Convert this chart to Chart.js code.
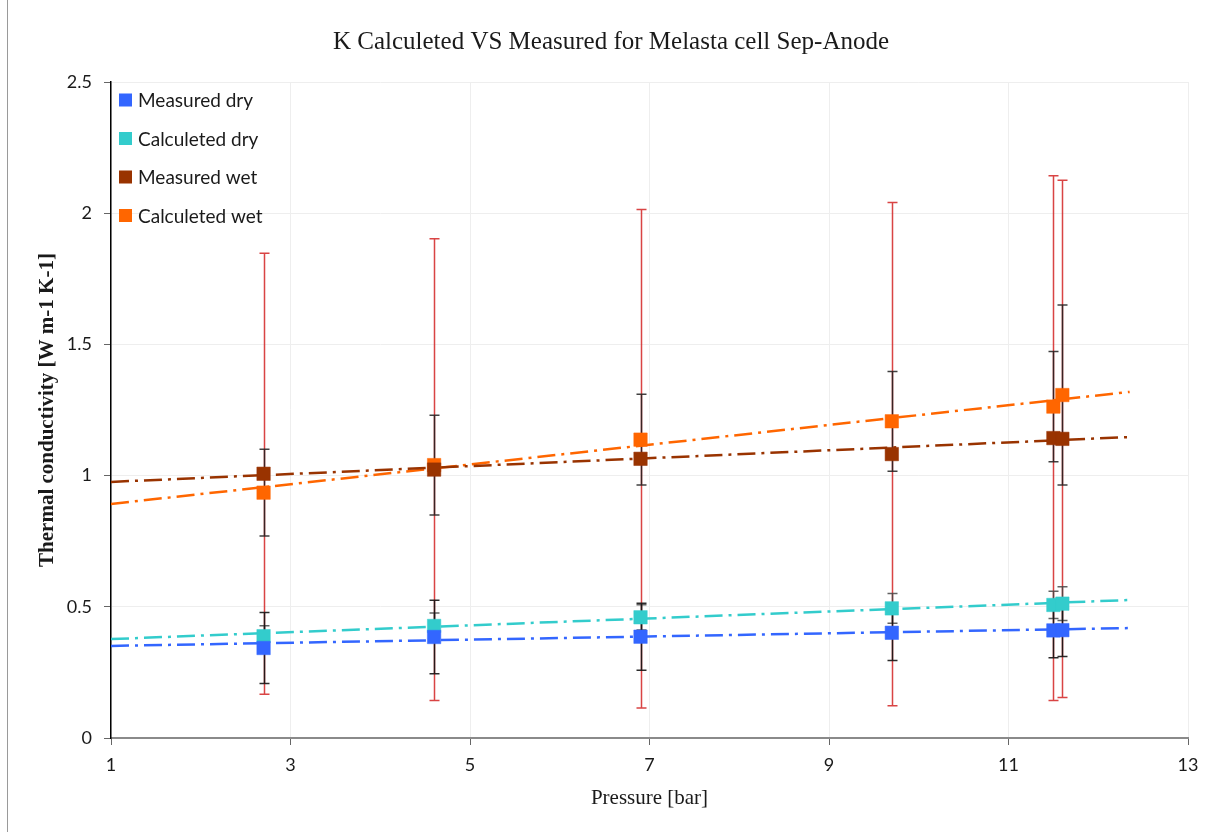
<!DOCTYPE html>
<html>
<head>
<meta charset="utf-8">
<script src="https://cdn.jsdelivr.net/npm/chart.js@4/dist/chart.umd.min.js"></script>
<style>
  html, body { margin: 0; padding: 0; background: #fff; }
  canvas { display: block; }
</style>
</head>
<body>
<canvas id="c" width="1213" height="832"></canvas>
<script>
// ---- data ----
const pressure = [2.7, 4.6, 6.9, 9.7, 11.5, 11.6];

const measuredDry       = [0.343, 0.385, 0.386, 0.401, 0.410, 0.411];
const measuredDryErr    = [0.135, 0.140, 0.128, 0.106, 0.104, 0.100];
const calculatedDry     = [0.388, 0.427, 0.460, 0.494, 0.507, 0.512];
const calculatedDryErr  = [0.040, 0.049, 0.048, 0.057, 0.052, 0.064];
const measuredWet       = [1.007, 1.023, 1.064, 1.082, 1.143, 1.140];
const measuredWetErr    = [0.840, 0.880, 0.950, 0.959, 1.000, 0.986];
const calculatedWet     = [0.935, 1.040, 1.137, 1.207, 1.263, 1.307];
const calculatedWetErr  = [0.165, 0.190, 0.173, 0.190, 0.210, 0.343];

// trendline endpoints (x from 1 to 12.35)
const trendX            = [1, 12.35];
const trendMeasuredDry  = [0.351, 0.419];
const trendCalcDry      = [0.377, 0.526];
const trendMeasuredWet  = [0.976, 1.147];
const trendCalcWet      = [0.892, 1.319];

const xTicks = [1, 3, 5, 7, 9, 11, 13];
const yTicks = [0, 0.5, 1, 1.5, 2, 2.5];

const chartTitle   = 'K Calculeted VS Measured for Melasta cell Sep-Anode';
const seriesNames  = ['Measured dry', 'Calculeted dry', 'Measured wet', 'Calculeted wet'];
const seriesColors = ['#3366FF', '#33CCCC', '#993300', '#FF6600'];

const toPts = (xs, ys) => xs.map((v, i) => ({ x: v, y: ys[i] }));

const markerSets = [measuredDry, calculatedDry, measuredWet, calculatedWet];
const trendSets  = [trendMeasuredDry, trendCalcDry, trendMeasuredWet, trendCalcWet];

const datasets = [];
markerSets.forEach((vals, k) => {
  datasets.push({
    label: seriesNames[k],
    data: toPts(pressure, vals),
    showLine: false,
    pointStyle: 'rect',
    pointRadius: 9.5,
    pointHoverRadius: 9.5,
    backgroundColor: seriesColors[k],
    borderColor: seriesColors[k],
    borderWidth: 0.5,
    order: 1
  });
});
trendSets.forEach((vals, k) => {
  datasets.push({
    label: 'trend ' + seriesNames[k],
    data: toPts(trendX, vals),
    showLine: true,
    pointRadius: 0,
    borderColor: seriesColors[k],
    borderWidth: 2.5,
    borderDash: [18, 6, 3, 6],
    fill: false,
    order: 10
  });
});

const errorSeries = [
  { vals: measuredWet,   err: measuredWetErr,   color: 'rgba(210,35,35,0.85)' },
  { vals: calculatedWet, err: calculatedWetErr, color: 'rgba(30,30,30,0.85)' },
  { vals: calculatedDry, err: calculatedDryErr, color: 'rgba(70,70,70,0.85)' },
  { vals: measuredDry,   err: measuredDryErr,   color: 'rgba(20,20,20,0.9)' }
];

const errorBarPlugin = {
  id: 'errorBars',
  beforeDatasetsDraw(chart) {
    const { ctx, scales: { x, y } } = chart;
    ctx.save();
    errorSeries.forEach(s => {
      ctx.strokeStyle = s.color;
      ctx.lineWidth = 1.5;
      pressure.forEach((p, i) => {
        const px = Math.round(x.getPixelForValue(p)) + 0.5;
        const top = y.getPixelForValue(s.vals[i] + s.err[i]);
        const bot = y.getPixelForValue(s.vals[i] - s.err[i]);
        ctx.beginPath();
        ctx.moveTo(px, top); ctx.lineTo(px, bot);
        ctx.moveTo(px - 5, top); ctx.lineTo(px + 5, top);
        ctx.moveTo(px - 5, bot); ctx.lineTo(px + 5, bot);
        ctx.stroke();
      });
    });
    ctx.restore();
  }
};

const legendPlugin = {
  id: 'insideLegend',
  afterDraw(chart) {
    const { ctx, chartArea } = chart;
    ctx.save();
    // title, centred over the whole picture
    ctx.font = '25px "Liberation Serif", "Times New Roman", serif';
    ctx.fillStyle = '#1a1a1a';
    ctx.textAlign = 'center';
    ctx.textBaseline = 'middle';
    ctx.fillText(chartTitle, 611, 42);

    ctx.font = '19px Lato, "Liberation Sans", sans-serif';
    ctx.textBaseline = 'middle';
    ctx.textAlign = 'left';
    seriesNames.forEach((name, k) => {
      const cy = chartArea.top + 18 + k * 38.5;
      ctx.fillStyle = seriesColors[k];
      ctx.fillRect(chartArea.left + 8, cy - 6.5, 13, 13);
      ctx.fillStyle = '#1a1a1a';
      ctx.fillText(name, chartArea.left + 27, cy + 1);
    });
    // left frame line of the chart object
    ctx.strokeStyle = '#9a9a9a';
    ctx.lineWidth = 1;
    ctx.beginPath();
    ctx.moveTo(7.5, 0); ctx.lineTo(7.5, 832);
    ctx.stroke();
    ctx.restore();
  }
};

new Chart(document.getElementById('c'), {
  type: 'scatter',
  data: { datasets },
  plugins: [errorBarPlugin, legendPlugin],
  options: {
    responsive: false,
    devicePixelRatio: 1,
    animation: false,
    layout: { padding: { left: 0, right: 25, top: 82, bottom: 0 } },
    plugins: {
      legend: { display: false },
      tooltip: { enabled: false },
      title: { display: false }
    },
    scales: {
      x: {
        type: 'linear',
        min: 1, max: 13,
        afterBuildTicks: s => { s.ticks = xTicks.map(v => ({ value: v })); },
        afterFit: s => { s.height = 94; },
        ticks: {
          font: { family: 'Lato, "Liberation Sans", sans-serif', size: 18 },
          color: '#1a1a1a',
          padding: 9,
          maxRotation: 0,
          callback: v => String(v)
        },
        grid: { color: '#eeeeee', lineWidth: 1, tickLength: 7, tickColor: '#666' },
        border: { color: '#8a8a8a', width: 2 },
        title: {
          display: true,
          text: 'Pressure [bar]',
          font: { family: '"Liberation Serif", "Times New Roman", serif', size: 21 },
          color: '#1a1a1a',
          padding: { top: 0, bottom: 21 }
        }
      },
      y: {
        type: 'linear',
        min: 0, max: 2.5,
        afterBuildTicks: s => { s.ticks = yTicks.map(v => ({ value: v })); },
        afterFit: s => { s.width = 111; },
        ticks: {
          font: { family: 'Lato, "Liberation Sans", sans-serif', size: 18 },
          color: '#1a1a1a',
          padding: 12,
          callback: v => String(v)
        },
        grid: { color: '#eeeeee', lineWidth: 1, tickLength: 7, tickColor: '#666' },
        border: { color: '#000', width: 1.5 },
        title: {
          display: true,
          text: 'Thermal conductivity [W m-1 K-1]',
          font: { family: '"Liberation Serif", "Times New Roman", serif', size: 21, weight: 'bold' },
          color: '#1a1a1a',
          padding: { top: 35, bottom: 0 }
        }
      }
    }
  }
});
</script>
</body>
</html>
